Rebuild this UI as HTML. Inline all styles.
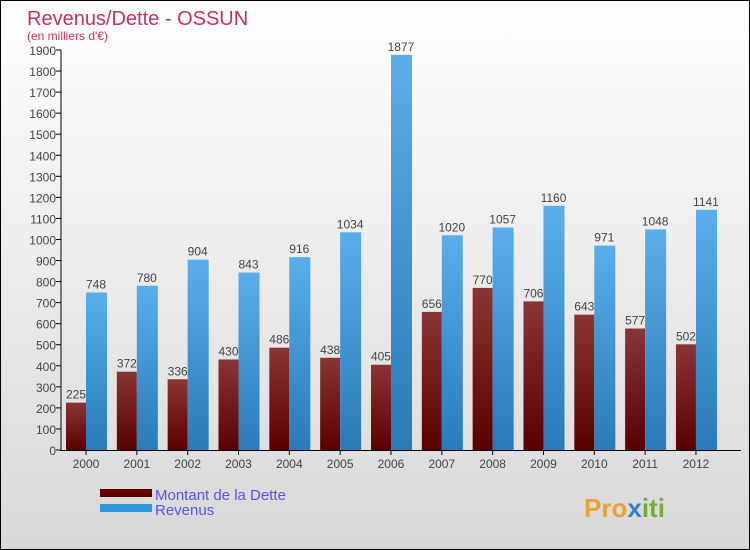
<!DOCTYPE html>
<html><head><meta charset="utf-8"><style>
body{margin:0}
#c{width:748px;height:548px;border:1px solid #000;background:linear-gradient(#fff,#d8d8d8);position:relative;font-family:"Liberation Sans",sans-serif}
</style></head><body>
<div id="c">
<svg id="s" width="748" height="548" style="position:absolute;left:0;top:0">
<defs>
<linearGradient id="gd" x1="0" y1="0" x2="0" y2="1"><stop offset="0" stop-color="#8a3535"/><stop offset="1" stop-color="#5a0000"/></linearGradient>
<linearGradient id="gr" x1="0" y1="0" x2="0" y2="1"><stop offset="0" stop-color="#5aaeea"/><stop offset="1" stop-color="#2a7ab8"/></linearGradient>
</defs>
<text x="26" y="24" font-size="20" fill="#c8305f">Revenus/Dette - OSSUN</text>
<text x="26" y="39" font-size="12" fill="#c8305f">(en milliers d'€)</text>
<g id="g"></g>
<rect x="99" y="488" width="52" height="8" fill="#600000"/>
<rect x="99" y="503" width="52" height="8" fill="#2f95dd"/>
<text x="154" y="499" font-size="15" fill="#5555ee">Montant de la Dette</text>
<text x="154" y="514" font-size="15" fill="#5555ee">Revenus</text>
<text x="583" y="516" font-size="26" font-weight="bold" fill="#f0a030">Pro<tspan fill="#3080d0">x</tspan><tspan fill="#70b030">iti</tspan></text>
</svg>
</div>
<script>
const years=["2000","2001","2002","2003","2004","2005","2006","2007","2008","2009","2010","2011","2012"];
const dette=[225,372,336,430,486,438,405,656,770,706,643,577,502];
const revenus=[748,780,904,843,916,1034,1877,1020,1057,1160,971,1048,1141];
const yTicks=[0,100,200,300,400,500,600,700,800,900,1000,1100,1200,1300,1400,1500,1600,1700,1800,1900];
const NS="http://www.w3.org/2000/svg";
const g=document.getElementById('g');
const y=v=>449-v*400/1900;
const cx=i=>85+i*50.83;
function mk(t,a,txt){const e=document.createElementNS(NS,t);for(const k in a)e.setAttribute(k,a[k]);if(txt!=null)e.textContent=txt;g.appendChild(e);return e;}
yTicks.forEach(v=>{
 const l=mk('line',{x1:55,x2:60,y1:y(v),y2:y(v),stroke:'#000'});
 
 
 const t=mk('text',{x:55,y:y(v)+5,'font-size':12,'text-anchor':'end',fill:'#444'},v);
 
 
});
years.forEach((yr,i)=>{
 const c=cx(i);
 const b1=mk('rect',{x:c-20,y:y(dette[i]),width:20,height:y(0)-y(dette[i]),fill:'url(#gd)'});
 
 
 const b2=mk('rect',{x:c,y:y(revenus[i]),width:21,height:y(0)-y(revenus[i]),fill:'url(#gr)'});
 
 
 const t1=mk('text',{x:c-10,y:y(dette[i])-4,'font-size':12,'text-anchor':'middle',fill:'#444'},dette[i]);
 
 
 const t2=mk('text',{x:c+10,y:y(revenus[i])-4,'font-size':12,'text-anchor':'middle',fill:'#444'},revenus[i]);
 
 
 const tk=mk('line',{x1:c,x2:c,y1:449,y2:454,stroke:'#000'});
 
 
 const xl=mk('text',{x:c,y:467,'font-size':12,'text-anchor':'middle',fill:'#444'},yr);
 
 
});
const ax=mk('line',{x1:60,x2:60,y1:y(1900),y2:450,stroke:'#000'});


const bx=mk('line',{x1:60,x2:740,y1:449.5,y2:449.5,stroke:'#000'});


</script>
</body></html>
